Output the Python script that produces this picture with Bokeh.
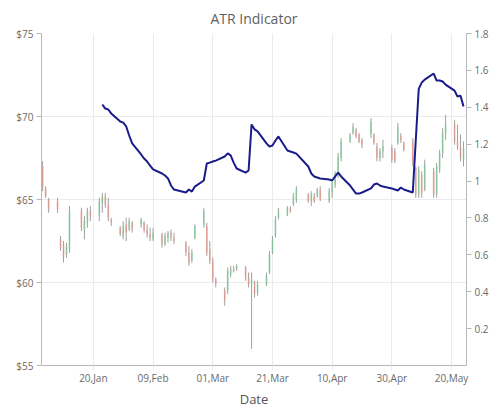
import pandas as pd
from bokeh.plotting import figure
from bokeh.models import (Range1d, LinearAxis, FixedTicker, NumeralTickFormatter,
                          DatetimeTickFormatter, ColumnDataSource)
from bokeh.embed import file_html
from bokeh.resources import INLINE

# ---------------- data ----------------
dates = [
    "2018-01-03", "2018-01-04", "2018-01-05", "2018-01-08", "2018-01-09", "2018-01-10", "2018-01-11", "2018-01-12",
    "2018-01-16", "2018-01-17", "2018-01-18", "2018-01-19", "2018-01-22", "2018-01-23", "2018-01-24", "2018-01-25",
    "2018-01-26", "2018-01-29", "2018-01-30", "2018-01-31", "2018-02-01", "2018-02-02", "2018-02-05", "2018-02-06",
    "2018-02-07", "2018-02-08", "2018-02-09", "2018-02-12", "2018-02-13", "2018-02-14", "2018-02-15", "2018-02-16",
    "2018-02-20", "2018-02-21", "2018-02-22", "2018-02-23", "2018-02-26", "2018-02-27", "2018-02-28", "2018-03-01",
    "2018-03-02", "2018-03-05", "2018-03-06", "2018-03-07", "2018-03-08", "2018-03-09", "2018-03-12", "2018-03-13",
    "2018-03-14", "2018-03-15", "2018-03-16", "2018-03-19", "2018-03-20", "2018-03-21", "2018-03-22", "2018-03-23",
    "2018-03-26", "2018-03-27", "2018-03-28", "2018-03-29", "2018-04-02", "2018-04-03", "2018-04-04", "2018-04-05",
    "2018-04-06", "2018-04-09", "2018-04-10", "2018-04-11", "2018-04-12", "2018-04-13", "2018-04-16", "2018-04-17",
    "2018-04-18", "2018-04-19", "2018-04-20", "2018-04-23", "2018-04-24", "2018-04-25", "2018-04-26", "2018-04-27",
    "2018-04-30", "2018-05-01", "2018-05-02", "2018-05-03", "2018-05-04", "2018-05-07", "2018-05-08", "2018-05-09",
    "2018-05-10", "2018-05-11", "2018-05-14", "2018-05-15", "2018-05-16", "2018-05-17", "2018-05-18", "2018-05-21",
    "2018-05-22", "2018-05-23", "2018-05-24",
]
high = [67.3, 65.8, 65.1, 65.1, 62.8, 62.5, 62.4, 64.6, 64.5, 64.0, 64.5, 64.6, 65.1, 65.4, 65.4, 65.1,
        63.9, 63.4, 63.7, 63.9, 63.9, 63.7, 63.9, 63.7, 63.5, 63.3, 63.3, 63.0, 63.0, 63.1, 63.2, 63.0,
        62.5, 62.2, 62.0, 63.5, 64.5, 63.6, 62.5, 61.5, 60.3, 59.7, 60.9, 61.0, 61.0, 61.1, 61.0, 60.6,
        60.6, 60.1, 60.1, 60.6, 61.9, 62.8, 64.0, 64.5, 64.6, 64.6, 65.4, 65.8, 65.4, 65.5, 65.4, 65.7,
        65.8, 65.7, 66.1, 66.7, 67.8, 68.7, 69.0, 69.6, 69.3, 69.0, 68.7, 69.9, 69.0, 68.4, 68.1, 68.6,
        68.3, 68.1, 69.6, 69.0, 68.5, 68.7, 67.0, 67.0, 66.7, 67.4, 66.9, 67.2, 68.0, 69.3, 70.1, 69.8,
        69.5, 68.9, 68.5]
low = [65.5, 65.1, 64.2, 64.2, 61.9, 61.2, 61.5, 61.8, 63.1, 62.6, 63.3, 63.7, 63.7, 64.2, 64.5, 63.7,
       63.4, 62.8, 62.6, 62.5, 63.1, 63.0, 63.3, 63.0, 62.7, 62.5, 62.5, 62.1, 62.2, 62.4, 62.5, 62.3,
       61.6, 61.0, 61.2, 62.6, 63.3, 61.6, 61.1, 60.0, 59.7, 58.6, 59.3, 60.3, 60.6, 60.7, 60.1, 59.7,
       56.0, 59.1, 59.2, 59.8, 60.5, 61.7, 62.7, 63.8, 64.0, 64.2, 64.6, 64.8, 64.8, 64.6, 64.8, 65.1,
       64.9, 64.8, 65.1, 65.7, 66.3, 67.3, 68.4, 68.9, 68.7, 68.4, 68.1, 68.7, 68.3, 67.3, 67.3, 67.5,
       67.2, 67.2, 68.3, 68.4, 67.9, 67.0, 65.1, 65.1, 65.1, 65.5, 65.1, 65.1, 66.6, 67.5, 68.6, 68.3,
       68.0, 67.3, 67.0]
open_ = [67.0, 65.7, 65.0, 64.9, 62.6, 62.3, 61.7, 62.0, 64.3, 63.2, 63.6, 64.3, 64.0, 64.8, 65.2, 64.7,
         63.8, 63.3, 62.8, 63.5, 63.2, 63.6, 63.5, 63.6, 63.2, 62.9, 62.6, 62.9, 62.3, 62.7, 63.0, 62.7,
         62.4, 61.8, 61.3, 62.7, 63.5, 63.4, 62.0, 61.3, 60.2, 59.5, 59.5, 60.5, 60.8, 60.8, 60.9, 60.3,
         59.9, 60.0, 59.4, 59.9, 60.6, 61.8, 62.8, 63.9, 64.1, 64.5, 64.7, 65.0, 65.3, 64.9, 65.2, 65.2,
         65.6, 64.9, 65.4, 65.9, 66.5, 67.5, 68.5, 69.0, 69.2, 68.9, 68.6, 68.9, 68.9, 68.2, 67.5, 67.9,
         68.1, 67.9, 68.4, 68.8, 68.4, 68.5, 66.9, 65.3, 66.5, 65.6, 66.7, 65.3, 66.8, 67.8, 69.0, 69.6,
         68.5, 68.2, 67.4]
close = [65.8, 65.2, 64.4, 64.4, 62.1, 61.5, 62.2, 64.3, 63.3, 63.7, 64.3, 64.0, 64.9, 65.2, 64.7, 63.9,
         63.6, 62.9, 63.4, 63.0, 63.7, 63.2, 63.8, 63.2, 62.9, 62.7, 63.0, 62.3, 62.8, 63.0, 62.7, 62.5,
         61.8, 61.2, 61.8, 63.4, 64.3, 61.8, 61.3, 60.2, 59.9, 58.9, 60.7, 60.8, 60.7, 61.0, 60.3, 59.9,
         60.2, 59.3, 59.9, 60.4, 61.7, 62.6, 63.8, 64.3, 64.5, 64.3, 65.2, 65.6, 64.9, 65.3, 64.9, 65.6,
         65.0, 65.5, 66.0, 66.6, 67.6, 68.5, 68.9, 69.4, 68.8, 68.5, 68.3, 69.7, 68.4, 67.5, 67.9, 68.2,
         67.4, 67.3, 69.4, 68.6, 68.0, 67.2, 65.3, 66.8, 65.4, 67.1, 65.3, 67.0, 67.8, 69.0, 69.5, 68.5,
         68.2, 67.5, 68.1]

atr_dates = dates[13:]
atr_values = [1.415, 1.393, 1.388, 1.366, 1.323, 1.317, 1.296, 1.247, 1.204, 1.144, 1.122, 1.106, 1.084,
              1.063, 1.041, 1.030, 1.014, 0.976, 0.954, 0.938, 0.954, 0.943, 0.970, 1.003, 1.095, 1.100,
              1.106, 1.111, 1.133, 1.150, 1.139, 1.100, 1.068, 1.046, 1.057, 1.307, 1.280, 1.269, 1.204,
              1.187, 1.193, 1.220, 1.242, 1.166, 1.160, 1.155, 1.149, 1.079, 1.041, 1.025, 1.019, 1.014,
              1.008, 1.003, 1.025, 1.046, 1.025, 0.976, 0.954, 0.932, 0.932, 0.938, 0.960, 0.981, 0.987,
              0.976, 0.970, 0.960, 0.954, 0.949, 0.965, 0.954, 0.938, 1.220, 1.500, 1.534, 1.550, 1.583,
              1.545, 1.545, 1.540, 1.523, 1.490, 1.458, 1.463, 1.404]

x_tick_dates = ["2018-01-20", "2018-02-09", "2018-03-01", "2018-03-21", "2018-04-10", "2018-04-30", "2018-05-20"]
price_ticks = [55, 60, 65, 70, 75]
atr_ticks = [0.2, 0.4, 0.6, 0.8, 1.0, 1.2, 1.4, 1.6, 1.8]

# ---------------- build ----------------
FONT = "Open Sans"
GRID = "#ebebeb"
AXIS = "#b8b8b8"
LABEL = "#6a6a6a"

dt = pd.to_datetime(dates)
inc = [c >= o for o, c in zip(open_, close)]
src = ColumnDataSource(dict(
    x=dt, high=high, low=low,
    top=[max(o, c) for o, c in zip(open_, close)],
    bottom=[min(o, c) for o, c in zip(open_, close)],
    color=["#7dcc98" if i else "#e9968a" for i in inc],
))
atr_src = ColumnDataSource(dict(x=pd.to_datetime(atr_dates), y=atr_values))

x_start = pd.Timestamp("2018-01-02 15:00")
x_end = pd.Timestamp("2018-05-25 00:00")

p = figure(width=500, height=413, x_axis_type="datetime",
           x_range=Range1d(x_start, x_end), y_range=Range1d(55, 75),
           output_backend="svg", toolbar_location=None,
           min_border_left=41, min_border_right=34, min_border_top=33, min_border_bottom=48)
p.outline_line_color = None
p.background_fill_color = "white"

p.title.text = "ATR Indicator"
p.title.align = "center"
p.title.vertical_align = "top"
p.title.text_font = FONT
p.title.text_font_size = "14px"
p.title.text_font_style = "normal"
p.title.text_color = "#5f5f5f"
p.title.standoff = 8

# x axis
xt = [pd.Timestamp(d).value // 10**6 for d in x_tick_dates]
xa = p.xaxis[0]
xa.ticker = FixedTicker(ticks=xt)
xa.formatter = DatetimeTickFormatter(days="%d,%b", months="%d,%b")
xa.axis_label = "Date"
xa.axis_label_text_font = FONT
xa.axis_label_text_font_size = "13px"
xa.axis_label_text_font_style = "normal"
xa.axis_label_text_color = "#555555"
xa.axis_label_standoff = 2
xa.major_label_text_font = FONT
xa.major_label_text_font_size = "10px"
xa.major_label_text_color = LABEL
xa.major_label_standoff = 0
xa.axis_line_color = AXIS
xa.major_tick_line_color = GRID
xa.major_tick_out = 5
xa.major_tick_in = 0
xa.minor_tick_line_color = None

# left axis
ya = p.yaxis[0]
ya.ticker = FixedTicker(ticks=price_ticks)
ya.formatter = NumeralTickFormatter(format="$0")
ya.major_label_text_font = FONT
ya.major_label_text_font_size = "10px"
ya.major_label_text_color = LABEL
ya.axis_line_color = AXIS
ya.major_tick_line_color = AXIS
ya.major_tick_out = 5
ya.major_tick_in = 0
ya.major_label_standoff = 3
ya.minor_tick_line_color = None

p.xgrid.grid_line_color = GRID
p.ygrid.grid_line_color = GRID

# right axis
p.extra_y_ranges = {"atr": Range1d(0, 1.8)}
ra = LinearAxis(y_range_name="atr", ticker=FixedTicker(ticks=atr_ticks),
                formatter=NumeralTickFormatter(format="0.[0]"))
ra.major_label_text_font = FONT
ra.major_label_text_font_size = "10px"
ra.major_label_text_color = LABEL
ra.axis_line_color = AXIS
ra.major_tick_line_color = AXIS
ra.major_tick_out = 5
ra.major_tick_in = 0
ra.major_label_standoff = 3
ra.minor_tick_line_color = None
p.add_layout(ra, "right")

# candles
day = 86400000
p.segment(x0="x", x1="x", y0="high", y1="low", source=src, line_color="#a0a0a0", line_width=1)
p.vbar(x="x", width=0.55 * day, top="top", bottom="bottom", source=src,
       fill_color="color", line_color=None, fill_alpha=0.7)

# ATR line
p.line(x="x", y="y", source=atr_src, y_range_name="atr", line_color="#1b1b8a", line_width=2)

open("out.html", "w").write(file_html(p, INLINE))
